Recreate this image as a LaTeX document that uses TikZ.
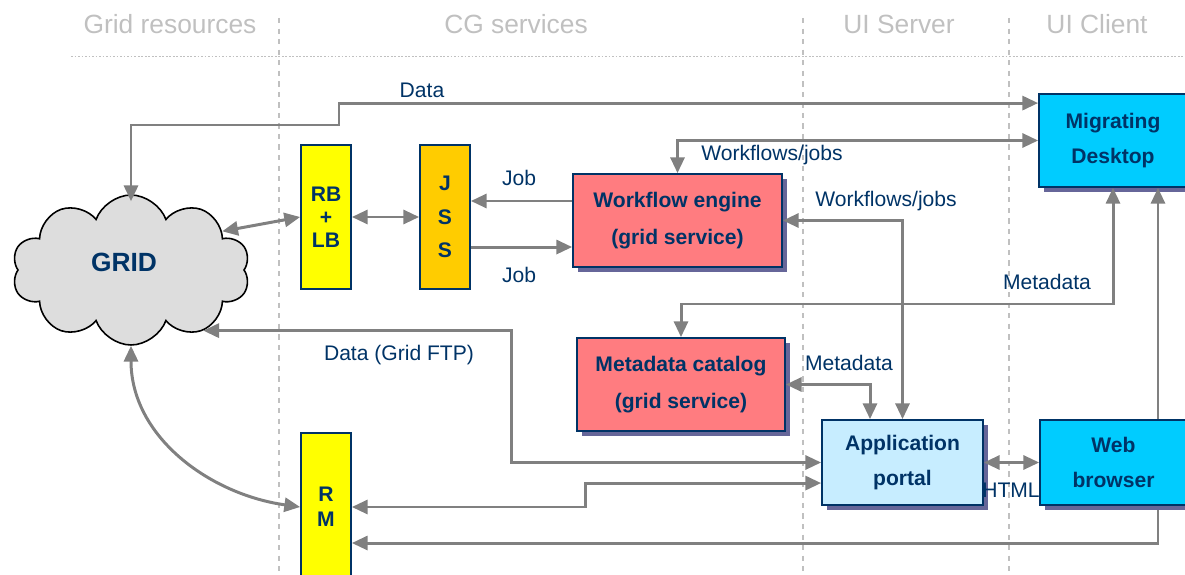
\documentclass[tikz,border=0pt]{standalone}
\usepackage{fontspec}
\setmainfont{Liberation Sans}
\usetikzlibrary{shapes.symbols,shadows,arrows.meta}
\definecolor{navy}{HTML}{003366}
\definecolor{arrowgray}{HTML}{808080}
\definecolor{hdrgray}{HTML}{C0C0C0}
\definecolor{yel}{HTML}{FFFF00}
\definecolor{orng}{HTML}{FFCC00}
\definecolor{pinkbox}{HTML}{FF7C80}
\definecolor{cyanbox}{HTML}{00CCFF}
\definecolor{lblue}{HTML}{C7EDFF}
\definecolor{shadowc}{HTML}{666699}
\definecolor{cloudg}{HTML}{DDDDDD}
\begin{document}
\begin{tikzpicture}[x=0.02cm,y=-0.02cm,
  >={Triangle[length=9pt,width=8pt]},
  conn/.style={draw=arrowgray, line width=1.7pt},
  lbl/.style={font=\fontsize{12}{14}\selectfont, text=navy, inner sep=0pt},
  hdr/.style={font=\fontsize{15}{18}\selectfont, text=hdrgray, inner sep=0pt},
  divider/.style={draw=hdrgray, line width=0.7pt, dash pattern=on 3pt off 3pt},
  box/.style={draw=navy, line width=1pt, text=navy, align=center, inner sep=0pt,
    font=\bfseries\fontsize{12}{21}\selectfont},
  shad/.style={drop shadow={shadow xshift=2.8pt, shadow yshift=-2.8pt, fill=shadowc, opacity=1}}
]
\useasboundingbox (0,0) rectangle (1185,574);
% headers and dividers
\node[hdr] (h1) at (170,24) {Grid resources};
\node[hdr] (h2) at (516,24) {CG services};
\node[hdr] (h3) at (899,24) {UI Server};
\node[hdr] (h4) at (1097,24) {UI Client};
\draw[divider] (279,18) -- (279,574);
\draw[divider] (803,18) -- (803,574);
\draw[divider] (1009,18) -- (1009,574);
\draw[draw=hdrgray, line width=0.5pt, dash pattern=on 1pt off 1pt] (71,56) -- (1185,56);

% nodes
\node[cloud, cloud puffs=10, cloud puff arc=140, aspect=1.6, draw=black, line width=0.9pt, fill=cloudg,
  minimum width=4.76cm, minimum height=3cm, text=navy, font=\bfseries\fontsize{15}{18}\selectfont] (grid) at (131,270)
  {\raisebox{4.5pt}[\height][\depth]{GRID}\hspace*{8pt}};
\node[box, fill=yel, minimum width=1cm, minimum height=2.88cm, font=\bfseries\fontsize{12}{13}\selectfont] (rb) at (326,217) {RB\\+\\LB};
\node[box, fill=orng, minimum width=1cm, minimum height=2.88cm, font=\bfseries\fontsize{12}{19}\selectfont] (jss) at (445,217) {J\\S\\S};
\node[box, fill=pinkbox, shad, minimum width=4.18cm, minimum height=1.86cm] (we) at (677.5,220.5) {Workflow engine\\(grid service)};
\node[box, fill=cyanbox, shad, minimum width=2.96cm, minimum height=1.86cm, font=\bfseries\fontsize{12}{20}\selectfont] (md) at (1113,140.5) {Migrating\\Desktop};
\node[box, fill=pinkbox, shad, minimum width=4.16cm, minimum height=1.86cm] (mc) at (681,384.5) {Metadata catalog\\(grid service)};
\node[box, fill=lblue, shad, minimum width=3.22cm, minimum height=1.7cm, font=\bfseries\fontsize{12}{20}\selectfont] (ap) at (902.5,462.5) {Application\\portal};
\node[box, fill=yel, minimum width=1cm, minimum height=2.96cm, font=\bfseries\fontsize{12}{14}\selectfont] (rm) at (326,507) {R\\M};

% connector behind web browser
\draw[conn,<->] ([yshift=-20.5pt]rm.east) -| ([xshift=25.6pt]md.south);
\node[box, fill=cyanbox, shad, minimum width=2.94cm, minimum height=1.7cm, font=\bfseries\fontsize{12}{20}\selectfont] (wb) at (1113.5,462.5) {Web\\browser};

% connectors
\draw[conn,<->] ([yshift=-4pt]grid.north) |- (339,125) |- ([yshift=21.3pt]md.west);
\draw[conn,<->] (we.north) |- (md.west);
\draw[conn,->] ([yshift=11.1pt]we.west) -- ([yshift=11.1pt]we.west -| jss.east);
\draw[conn,->] ([yshift=-15.1pt]we.west -| jss.east) -- ([yshift=-15.1pt]we.west);
\draw[conn,<->] (rb.east) -- (jss.west);
\draw[conn,<->] (grid.23) -- (rb.west);
\draw[conn,<->] (grid.-40) -| (511,400) |- (ap.west);
\draw[conn,<->] (grid.south) to[out=-90,in=172] (rm.west);
\draw[conn,<->] (rm.east) -| (585,494) |- ([yshift=-11.7pt]ap.west);
\draw[conn,<->] (mc.north) |- (900,304) -| (md.south);
\draw[conn,<->] (mc.east) -| ([xshift=-18.5pt]ap.north);
\draw[conn,<->] (we.east) -| (ap.north);
\draw[conn,<->] (ap.east) -- (wb.west);

% labels
\node[lbl] (l1) at (422,90) {Data};
\node[lbl] (l2) at (772,155) {Workflows/jobs};
\node[lbl] (l3) at (519,178) {Job};
\node[lbl] (l4) at (519,275) {Job};
\node[lbl] (l5) at (886,201) {Workflows/jobs};
\node[lbl] (l6) at (1047,282) {Metadata};
\node[lbl] (l7) at (399,355) {Data (Grid FTP)};
\node[lbl] (l8) at (849,363) {Metadata};
\node[lbl] (l9) at (1011,490) {HTML};
\end{tikzpicture}
\end{document}
